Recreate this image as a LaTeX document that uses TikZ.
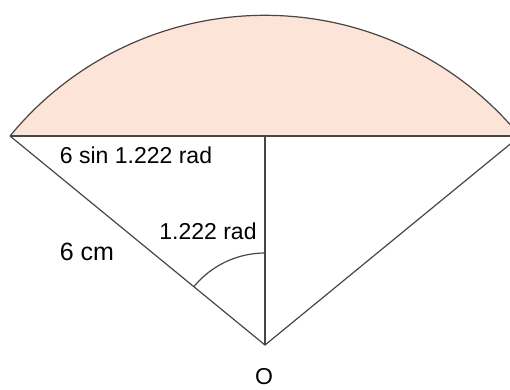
\documentclass[tikz,border=0pt]{standalone}
\usepackage{fontspec}
\setmainfont{Liberation Sans}
\definecolor{peach}{RGB}{253,228,216}
\definecolor{edge}{RGB}{70,70,70}
\begin{document}
\begin{tikzpicture}[x=1pt,y=-1pt,
  lbl/.style={anchor=base,inner sep=0pt,font=\fontsize{23}{27}\selectfont,text=black},
  ln/.style={draw=edge,line width=1.2pt}]
\useasboundingbox (0,0) rectangle (510,389);
\begin{scope}
\clip (0,0) rectangle (510,389);
\coordinate (O) at (265,345);
\coordinate (A) at (10,136);
\coordinate (B) at (520,136);
\coordinate (M) at (265,136);
\fill[peach] (A) arc[start angle=-140.66,end angle=-39.34,radius=329.7] -- cycle;
\draw[ln] (A) arc[start angle=-140.66,end angle=-39.34,radius=329.7];
\draw[ln] (A) -- (B);
\draw[ln] (A) -- (O) -- (B);
\draw[ln] (M) -- (O);
\draw[ln] (265,253) arc[start angle=-90,end angle=-140.66,radius=92];
\end{scope}
\node[lbl] (t1) at (136,163) {6 sin 1.222 rad};
\node[lbl,font=\fontsize{25}{29}\selectfont] (t2) at (87,260) {6 cm};
\node[lbl] (t3) at (208,239) {1.222 rad};
\node[lbl] (t4) at (264,384) {O};
\end{tikzpicture}
\end{document}
